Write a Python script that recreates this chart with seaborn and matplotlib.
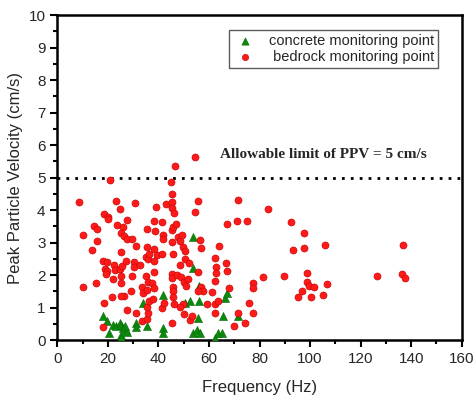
import numpy as np
import pandas as pd
import matplotlib
matplotlib.use("Agg")
import matplotlib.pyplot as plt
import seaborn as sns
from matplotlib.ticker import MultipleLocator

# bedrock monitoring points (frequency Hz, PPV cm/s)
bed_freq = [8.7, 10.2, 10.0, 13.7, 14.6, 15.6, 15.6, 15.4, 18.3, 19.9, 19.9, 20.8,
            23.4, 24.8, 23.6, 26.0, 27.7, 25.3, 26.4, 27.4, 29.4, 31.0, 30.9, 25.1,
            17.9, 19.5, 18.9, 19.8, 19.1, 22.4, 22.8, 22.2, 24.8, 25.6, 25.1, 25.3,
            27.0, 26.4, 25.2, 21.5, 18.5, 29.4, 29.1, 30.2, 30.5, 32.7, 27.6, 31.1,
            17.9, 33.4, 35.4, 35.9, 35.4, 36.1, 33.4, 33.8, 35.4, 35.0, 36.0, 35.1,
            35.9, 35.5, 36.1, 35.6, 38.4, 38.5, 39.2, 38.3, 39.3, 38.1, 38.1, 37.3,
            38.1, 37.9, 41.6, 41.7, 41.7, 41.6, 41.4, 42.3, 43.1, 44.9, 45.3, 45.5,
            45.5, 46.3, 46.6, 54.5, 45.4, 45.8, 46.8, 45.4, 45.6, 45.4, 45.3, 45.6,
            45.8, 45.6, 46.2, 45.4, 47.9, 48.5, 49.3, 47.2, 48.8, 48.5, 49.6, 50.5,
            50.5, 50.1, 50.9, 51.8, 52.0, 49.6, 48.5, 50.0, 52.5, 53.3, 54.5, 55.7,
            56.3, 56.9, 55.7, 56.9, 57.8, 55.7, 59.1, 61.3, 62.4, 62.7, 62.7, 62.4,
            62.4, 62.4, 64.1, 63.7, 66.8, 67.0, 67.3, 67.8, 69.9, 71.2, 71.3, 71.5,
            74.9, 74.3, 76.0, 77.3, 77.3, 77.6, 81.5, 83.2, 89.8, 92.3, 93.4, 95.1,
            96.7, 97.5, 97.6, 98.9, 98.7, 99.7, 100.5, 101.6, 105.0, 106.1, 106.6,
            126.5, 136.8, 136.3, 137.7]
bed_ppv = [4.24, 1.65, 3.24, 2.76, 3.51, 3.41, 3.05, 1.76, 3.88, 3.80, 3.72, 4.92,
           4.29, 4.03, 3.53, 3.49, 3.70, 3.29, 3.21, 3.11, 3.12, 2.91, 4.21, 2.70,
           2.42, 2.41, 2.18, 2.14, 2.04, 2.31, 2.16, 1.88, 2.18, 2.28, 1.96, 1.77,
           2.43, 1.36, 1.36, 1.32, 1.14, 1.96, 1.52, 2.39, 2.26, 2.32, 0.93, 0.83,
           0.42, 0.60, 0.65, 0.83, 1.03, 1.19, 1.65, 1.44, 1.55, 1.96, 1.80, 2.57,
           2.49, 2.86, 2.65, 3.41, 3.66, 3.35, 4.09, 2.80, 2.63, 2.42, 2.11, 1.75,
           1.60, 1.28, 3.64, 3.24, 3.10, 2.64, 0.98, 1.14, 4.19, 4.85, 4.50, 4.26,
           4.06, 3.92, 5.37, 5.62, 3.39, 3.49, 3.57, 3.03, 2.65, 2.04, 1.90, 1.65,
           1.50, 1.34, 1.12, 0.54, 3.17, 3.06, 3.24, 2.01, 1.94, 2.32, 2.86, 2.73,
           2.49, 1.80, 1.67, 1.88, 2.37, 1.12, 1.03, 0.79, 0.62, 0.73, 3.93, 4.27,
           3.08, 2.83, 2.10, 1.63, 1.50, 1.50, 1.12, 1.47, 2.52, 2.26, 2.06, 1.83,
           1.12, 0.83, 2.91, 1.19, 2.37, 2.14, 3.57, 1.59, 0.44, 3.65, 4.31, 0.83,
           3.68, 0.54, 1.14, 1.77, 1.59, 0.83, 1.93, 4.03, 1.98, 3.62, 2.76, 1.32,
           1.52, 3.29, 2.83, 2.08, 1.78, 1.67, 1.34, 1.63, 1.39, 2.93, 1.73,
           1.96, 2.92, 2.04, 1.90]

# concrete monitoring points
con_freq = [17.9, 19.8, 20.3, 22.2, 23.2, 24.8, 25.3, 25.1, 25.1, 26.1, 27.1, 27.7,
            26.8, 31.1, 31.1, 34.0, 35.5, 41.7, 41.7, 41.7, 50.5, 52.5, 53.8, 53.8,
            56.2, 55.9, 55.7, 53.8, 55.4, 56.5, 62.4, 63.7, 65.0, 65.7, 66.3, 67.0,
            71.6]
con_ppv = [0.75, 0.60, 0.22, 0.47, 0.44, 0.54, 0.47, 0.16, 0.06, 0.37, 0.32, 0.24,
           0.44, 0.54, 0.42, 1.14, 0.44, 1.39, 0.37, 0.22, 1.14, 1.19, 3.16, 2.21,
           1.67, 1.19, 0.68, 0.22, 0.32, 0.22, 0.06, 0.22, 0.22, 0.75, 1.29, 1.44,
           0.75]

limit = 5

bed = pd.DataFrame({"freq": bed_freq, "ppv": bed_ppv})
con = pd.DataFrame({"freq": con_freq, "ppv": con_ppv})

sns.set_style("white")
plt.rcParams["font.family"] = ["Liberation Sans", "DejaVu Sans"]

fig = plt.figure(figsize=(4.74, 3.96), dpi=100)
ax = fig.add_axes([0.121, 0.141, 0.853, 0.821])

sns.scatterplot(data=con, x="freq", y="ppv", marker="^", color="#0a8a0a",
                edgecolor="#0a6a0a", linewidth=0.4, s=34, ax=ax,
                label="concrete monitoring point", zorder=3)
sns.scatterplot(data=bed, x="freq", y="ppv", marker="o", color="#ff1a1a",
                edgecolor="#c00000", linewidth=0.4, s=26, ax=ax,
                label=" bedrock monitoring point", zorder=4)

ax.axhline(limit, color="black", linestyle=(0, (1, 2.2)), linewidth=2, zorder=2)
ax.text(64.4, 5.7, "Allowable limit of PPV = 5 cm/s", fontsize=11,
        fontweight="bold", family="Liberation Serif", va="center", ha="left")

ax.set_xlim(0, 160)
ax.set_ylim(0, 10)
ax.xaxis.set_major_locator(MultipleLocator(20))
ax.xaxis.set_minor_locator(MultipleLocator(10))
ax.yaxis.set_major_locator(MultipleLocator(1))
ax.yaxis.set_minor_locator(MultipleLocator(0.5))
ax.tick_params(which="both", direction="out", width=1.5, color="black",
               bottom=True, left=True, top=False, right=False)
ax.tick_params(which="major", length=5, labelsize=11)
ax.tick_params(which="minor", length=3)
for sp in ax.spines.values():
    sp.set_linewidth(1.8)
    sp.set_color("black")

ax.set_xlabel("Frequency (Hz)", fontsize=12, labelpad=10)
ax.set_ylabel("Peak Particle Velocity (cm/s)", fontsize=12, labelpad=4)

leg = ax.legend(loc="upper right", bbox_to_anchor=(0.96, 0.975), fontsize=10.5,
                frameon=True, fancybox=False, edgecolor="#333333",
                handletextpad=0.9, borderpad=0.25, labelspacing=0.12,
                handlelength=1.6, markerscale=0.9)
leg.get_frame().set_linewidth(1.0)

fig.savefig("out.png", dpi=100)
